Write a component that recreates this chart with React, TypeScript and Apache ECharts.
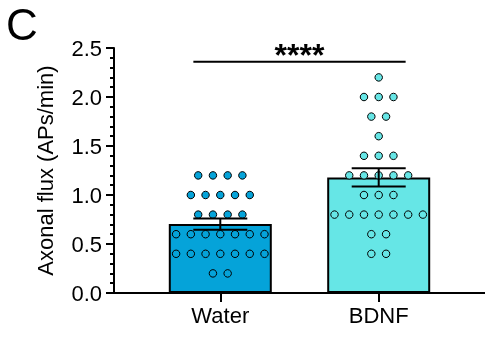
import React, { useEffect, useRef } from 'react';
import * as echarts from 'echarts';

const categories = ['Water', 'BDNF'];
const waterValues = [
  1.2, 1.2, 1.2, 1.2,
  1.0, 1.0, 1.0, 1.0, 1.0,
  0.8, 0.8, 0.8, 0.8,
  0.6, 0.6, 0.6, 0.6, 0.6, 0.6, 0.6,
  0.4, 0.4, 0.4, 0.4, 0.4, 0.4, 0.4,
  0.2, 0.2,
];
const bdnfValues = [
  2.2,
  2.0, 2.0, 2.0,
  1.8, 1.8,
  1.6,
  1.4, 1.4, 1.4,
  1.2, 1.2, 1.2, 1.2, 1.2,
  1.0, 1.0, 1.0,
  0.8, 0.8, 0.8, 0.8, 0.8, 0.8, 0.8,
  0.6, 0.6,
  0.4, 0.4,
];
const groupColors = ['#05A3D9', '#66E6E6'];
const significanceText = '****';
const significanceLevel = 2.36;
const significanceSpan = [-0.17, 1.17];

const FONT = '"Liberation Sans", Arial, Helvetica, sans-serif';
const DOT_SPACING = 0.093;

function mean(a: number[]) {
  return a.reduce((s, v) => s + v, 0) / a.length;
}
function sem(a: number[]) {
  const m = mean(a);
  const v = a.reduce((s, x) => s + (x - m) * (x - m), 0) / (a.length - 1);
  return Math.sqrt(v) / Math.sqrt(a.length);
}
function swarm(values: number[], center: number) {
  const counts: Record<string, number> = {};
  values.forEach((v) => { counts[v.toFixed(3)] = (counts[v.toFixed(3)] || 0) + 1; });
  const seen: Record<string, number> = {};
  return values.map((v) => {
    const k = v.toFixed(3);
    const n = counts[k];
    const i = seen[k] || 0;
    seen[k] = i + 1;
    return [center + (i - (n - 1) / 2) * DOT_SPACING, v];
  });
}

export default function App() {
  const ref = useRef<HTMLDivElement>(null);
  useEffect(() => {
    if (!ref.current) return;
    const chart = echarts.init(ref.current, null, { renderer: 'svg' });
    const groups = [waterValues, bdnfValues];
    const stats = groups.map((g, i) => [i, mean(g), sem(g)]);

    const option: any = {
      animation: false,
      textStyle: { fontFamily: FONT },
      grid: { left: 114, right: 0, top: 48, bottom: 44, containLabel: false },
      xAxis: {
        type: 'value', min: -0.671, max: 1.671,
        splitLine: { show: false },
        axisLine: { show: true, onZero: false, lineStyle: { color: '#000', width: 2 } },
        axisTick: { show: true, customValues: [0, 1], length: 9, lineStyle: { color: '#000', width: 2 } },
        axisLabel: {
          customValues: [0, 1], color: '#000', fontSize: 22, margin: 11, fontFamily: FONT,
          formatter: (v: number) => categories[Math.round(v)] ?? '',
        },
      },
      yAxis: {
        type: 'value', min: 0, max: 2.5, interval: 0.5,
        name: 'Axonal flux (APs/min)', nameLocation: 'middle', nameGap: 58,
        nameTextStyle: { fontSize: 22, color: '#000', fontFamily: FONT },
        splitLine: { show: false },
        axisLine: { show: true, onZero: false, lineStyle: { color: '#000', width: 2 } },
        axisTick: { show: true, length: 8, lineStyle: { color: '#000', width: 2 } },
        minorTick: { show: true, splitNumber: 5, length: 4, lineStyle: { color: '#000', width: 2 } },
        axisLabel: {
          color: '#000', fontSize: 22, margin: 12, fontFamily: FONT,
          formatter: (v: number) => v.toFixed(1),
        },
      },
      series: [
        {
          type: 'bar', barWidth: 103, z: 1,
          data: stats.map((s, i) => ({
            value: [s[0], s[1]],
            itemStyle: { color: groupColors[i], borderColor: '#000', borderWidth: 2 },
          })),
        },
        ...groups.map((g, i) => ({
          type: 'scatter', z: 2, symbol: 'circle', symbolSize: 7.5,
          itemStyle: { color: groupColors[i], borderColor: '#000', borderWidth: 1, opacity: 1 },
          data: swarm(g, i),
        })),
        {
          type: 'custom', z: 3, clip: false,
          data: stats,
          renderItem: (params: any, api: any) => {
            const x = api.value(0), m = api.value(1), e = api.value(2);
            const top = api.coord([x, m + e]);
            const bot = api.coord([x, m - e]);
            const hw = 27;
            return {
              type: 'group',
              children: [
                { type: 'line', shape: { x1: top[0], y1: top[1], x2: bot[0], y2: bot[1] }, style: { stroke: '#000', lineWidth: 2 } },
                { type: 'line', shape: { x1: top[0] - hw, y1: top[1], x2: top[0] + hw, y2: top[1] }, style: { stroke: '#000', lineWidth: 2 } },
                { type: 'line', shape: { x1: bot[0] - hw, y1: bot[1], x2: bot[0] + hw, y2: bot[1] }, style: { stroke: '#000', lineWidth: 2 } },
              ],
            };
          },
        },
      ],
    };
    chart.setOption(option);

    const a = chart.convertToPixel({ gridIndex: 0 }, [significanceSpan[0], significanceLevel]) as number[];
    const b = chart.convertToPixel({ gridIndex: 0 }, [significanceSpan[1], significanceLevel]) as number[];
    chart.setOption({
      graphic: [
        {
          type: 'text', left: 6, top: 2,
          style: { text: 'C', font: `44px ${FONT}`, fill: '#000' },
        },
        {
          type: 'line', z: 10,
          shape: { x1: a[0], y1: a[1], x2: b[0], y2: b[1] },
          style: { stroke: '#000', lineWidth: 2 },
        },
        {
          type: 'text', z: 10, x: (a[0] + b[0]) / 2, y: a[1] - 7,
          style: {
            text: significanceText, align: 'center', verticalAlign: 'middle',
            font: `bold 32px ${FONT}`, fill: '#000',
          },
        },
      ],
    });
    return () => chart.dispose();
  }, []);
  return <div ref={ref} style={{ position: 'fixed', left: 0, top: 0, width: 485, height: 337 }} />;
}
